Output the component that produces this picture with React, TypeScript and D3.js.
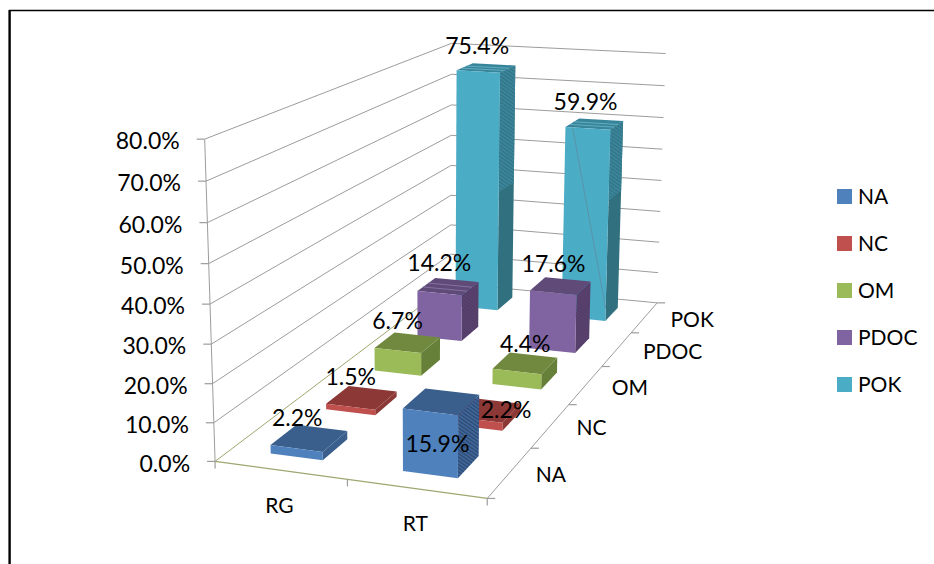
import React from "react";
import * as d3 from "d3";

// Chart values (share in %, rows by compartment, columns by group)
const groups = ["RG", "RT"];
const compartments = ["NA", "NC", "OM", "PDOC", "POK"];
const rgValues = [2.2, 1.5, 6.7, 14.2, 75.4];
const rtValues = [15.9, 2.2, 4.4, 17.6, 59.9];
const yTicks = [0, 10, 20, 30, 40, 50, 60, 70, 80];

const frontColors = ["#4F81BD", "#C0504D", "#9BBB59", "#8064A2", "#4BACC6"];
const topColors = ["#3A5F8C", "#8C3836", "#71893F", "#5F4A78", "#37859B"];
const sideColors = ["#3A5F8C", "#8C3836", "#66803A", "#59416E", "#31707F"];

const W = 934;
const H = 564;

// Known corners of the plot box define the perspective camera: [x, depth, value, px, py]
const cameraAnchors: number[][] = [
  [0, 0, 0, 215, 461],
  [1, 0, 0, 487, 499],
  [1, 1, 0, 657, 302],
  [0, 1, 0, 451, 284],
  [0, 0, 80, 205, 139],
  [0, 1, 80, 451, 43],
  [1, 1, 80, 666, 54],
];

function solveLinear(A: number[][], b: number[]): number[] {
  const n = b.length;
  const M = A.map((r, i) => [...r, b[i]]);
  for (let c = 0; c < n; c++) {
    let p = c;
    for (let r = c + 1; r < n; r++) if (Math.abs(M[r][c]) > Math.abs(M[p][c])) p = r;
    [M[c], M[p]] = [M[p], M[c]];
    for (let r = 0; r < n; r++) {
      if (r === c) continue;
      const f = M[r][c] / M[c][c];
      for (let k = c; k <= n; k++) M[r][k] -= f * M[c][k];
    }
  }
  return M.map((r, i) => r[n] / r[i]);
}

// Least-squares direct linear transform for a 3x4 projection with the last entry fixed to 1
function fitCamera(anchors: number[][]): number[] {
  const rows: number[][] = [];
  const rhs: number[] = [];
  anchors.forEach(([x, z, v, px, py]) => {
    const y = v / 80;
    rows.push([x, z, y, 1, 0, 0, 0, 0, -px * x / 1000, -px * z / 1000, -px * y / 1000]);
    rhs.push(px);
    rows.push([0, 0, 0, 0, x, z, y, 1, -py * x / 1000, -py * z / 1000, -py * y / 1000]);
    rhs.push(py);
  });
  const n = 11;
  const ata = d3.range(n).map((i) => d3.range(n).map((j) => d3.sum(rows, (r) => r[i] * r[j])));
  const atb = d3.range(n).map((i) => d3.sum(rows, (r, k) => r[i] * rhs[k]));
  const sol = solveLinear(ata, atb);
  return sol.map((v, i) => (i >= 8 ? v / 1000 : v));
}

const cam = fitCamera(cameraAnchors);

function project(x: number, z: number, v: number): [number, number] {
  const y = v / 80;
  const w = cam[8] * x + cam[9] * z + cam[10] * y + 1;
  return [
    (cam[0] * x + cam[1] * z + cam[2] * y + cam[3]) / w,
    (cam[4] * x + cam[5] * z + cam[6] * y + cam[7]) / w,
  ];
}

const xBand = d3.scaleBand<string>().domain(groups).range([0, 1]).paddingInner(0.6).paddingOuter(0.3);
const zBand = d3.scaleBand<string>().domain(compartments).range([0, 1]).paddingInner(0.55).paddingOuter(0.275);

const pathOf = d3.line<[number, number]>().x((d) => d[0]).y((d) => d[1]);
const poly = (pts: [number, number, number][]) => pathOf(pts.map((p) => project(p[0], p[1], p[2]))) + "Z";

type Bar = { g: string; c: string; ci: number; v: number };
const bars: Bar[] = [];
compartments.forEach((c, ci) => {
  groups.forEach((g, gi) => {
    bars.push({ g, c, ci, v: (gi === 0 ? rgValues : rtValues)[ci] });
  });
});
// Painter's order: deepest row first
const paintOrder = [...bars].sort((a, b) => b.ci - a.ci);

// Hand placement of value labels relative to each bar's top centre
const labelNudge: Record<string, [number, number]> = {
  "RG-NA": [-12, -20],
  "RT-NA": [-4, 42],
  "RG-NC": [-11, -21],
  "RT-NC": [20, 0],
  "RG-OM": [-10, -22],
  "RT-OM": [0, -19],
  "RG-PDOC": [-9, -24],
  "RT-PDOC": [-7, -22],
  "RG-POK": [-9, -22],
  "RT-POK": [-9, -22],
};

// Value where the POK side faces change shading
const POK_SIDE_SPLIT = 38;

const FONT = "Lato, Carlito, Calibri, sans-serif";
const GRID = "#9c9c9c";
const FLOOR_EDGE = "#a0a670";

function Hatch({ id, base, ink }: { id: string; base: string; ink: string }) {
  return (
    <pattern id={id} width={3} height={3} patternUnits="userSpaceOnUse" patternTransform="rotate(35)">
      <rect width={3} height={3} fill={base} />
      <rect width={3} height={1} fill={ink} />
    </pattern>
  );
}

export default function App() {
  const bl = (v: number) => project(0, 1, v);
  return (
    <svg width={W} height={H} style={{ position: "absolute", left: 0, top: 0, display: "block", background: "#fff" }} fontFamily={FONT}>
      <defs>
        <Hatch id="side-na" base="#3E659A" ink="#2C4668" />
        <Hatch id="side-pok" base="#3C8497" ink="#2F7287" />
        <Hatch id="side-pdoc" base="#59416E" ink="#523C67" />
      </defs>

      {/* page frame */}
      <line x1={9.6} x2={9.6} y1={10} y2={H} stroke="#000" strokeWidth={2.4} />
      <line x1={9} x2={W} y1={10.5} y2={10.5} stroke="#000" strokeWidth={1.3} />

      {/* wall gridlines */}
      {yTicks.map((t) => {
        const a = project(0, 0, t);
        const b = bl(t);
        const c = project(1, 1, t);
        return (
          <g key={t}>
            <path d={pathOf([a, b])!} fill="none" stroke={t === 0 ? FLOOR_EDGE : GRID} strokeWidth={1} />
            <path d={pathOf([b, c])!} fill="none" stroke={GRID} strokeWidth={1} />
            <line x1={a[0] - 8} x2={a[0]} y1={a[1]} y2={a[1]} stroke={GRID} strokeWidth={1.2} />
            <text x={a[0] - 25} y={a[1] + 2} dy="0.36em" textAnchor="end" fontSize={23} fill="#000">
              {t.toFixed(1)}%
            </text>
          </g>
        );
      })}

      {/* axis edges */}
      <path d={pathOf([project(0, 0, 0), project(0, 0, 80)])!} fill="none" stroke={GRID} />
      <path d={pathOf([project(0, 0, 0), project(1, 0, 0)])!} fill="none" stroke={FLOOR_EDGE} strokeWidth={1.2} />
      <path d={pathOf([project(1, 0, 0), project(1, 1, 0)])!} fill="none" stroke={GRID} />

      {/* ticks along the front and right floor edges */}
      {[0, 0.5, 1].map((x) => {
        const p = project(x, 0, 0);
        return <line key={x} x1={p[0]} x2={p[0]} y1={p[1]} y2={p[1] + 7} stroke={GRID} strokeWidth={1.2} />;
      })}
      {d3.range(6).map((i) => {
        const p = project(1, i / 5, 0);
        return <line key={i} x1={p[0]} x2={p[0] + 8} y1={p[1]} y2={p[1]} stroke={GRID} strokeWidth={1.2} />;
      })}

      {/* bars */}
      {paintOrder.map((b) => {
        const x0 = xBand(b.g)!;
        const x1 = x0 + xBand.bandwidth();
        const z0 = zBand(b.c)!;
        const z1 = z0 + zBand.bandwidth();
        const sideFill = b.c === "NA" && b.g === "RT" ? "url(#side-na)" : b.c === "PDOC" ? "url(#side-pdoc)" : sideColors[b.ci];
        return (
          <g key={b.g + b.c}>
            <path d={poly([[x1, z0, 0], [x1, z1, 0], [x1, z1, b.v], [x1, z0, b.v]])} fill={sideFill} />
            {b.c === "POK" && (
              <path d={poly([[x1, z0, POK_SIDE_SPLIT], [x1, z1, POK_SIDE_SPLIT], [x1, z1, b.v], [x1, z0, b.v]])} fill="url(#side-pok)" />
            )}
            <path d={poly([[x0, z0, b.v], [x1, z0, b.v], [x1, z1, b.v], [x0, z1, b.v]])} fill={topColors[b.ci]} />
            {(b.c === "POK" || (b.c === "PDOC" && b.g === "RG")) &&
              [0.3, 0.6].map((f) => (
                <path
                  key={f}
                  d={pathOf([project(x0, z0 + f * (z1 - z0), b.v), project(x1, z0 + f * (z1 - z0), b.v)])!}
                  fill="none"
                  stroke={b.c === "POK" ? "#6FB6C9" : "#8E7BA9"}
                  strokeWidth={0.8}
                />
              ))}
            <path d={poly([[x0, z0, 0], [x1, z0, 0], [x1, z0, b.v], [x0, z0, b.v]])} fill={frontColors[b.ci]} />
            {b.c === "POK" && b.g === "RT" && (
              <path
                d={pathOf([project(x0 + 0.16 * (x1 - x0), z0, b.v), project(x1, z0, 4)])!}
                fill="none"
                stroke="#5A93A8"
                strokeWidth={1}
              />
            )}
          </g>
        );
      })}

      {/* value labels */}
      {bars.map((b) => {
        const xc = xBand(b.g)! + xBand.bandwidth() / 2;
        const zc = zBand(b.c)! + zBand.bandwidth() / 2;
        const p = project(xc, zc, b.v);
        const n = labelNudge[`${b.g}-${b.c}`];
        return (
          <text key={b.g + b.c} x={p[0] + n[0]} y={p[1] + n[1]} dy="0.36em" textAnchor="middle" fontSize={23} fill="#000">
            {b.v.toFixed(1)}%
          </text>
        );
      })}

      {/* category labels */}
      {groups.map((g) => {
        const p = project(xBand(g)! + xBand.bandwidth() / 2, 0, 0);
        return (
          <text key={g} x={p[0] - 1} y={p[1] + 35} dy="0.36em" textAnchor="middle" fontSize={21} fill="#000">
            {g}
          </text>
        );
      })}
      {compartments.map((c) => {
        const p = project(1, zBand(c)! + zBand.bandwidth() / 2, 0);
        return (
          <text key={c} x={p[0] + 26} y={p[1] + 2} dy="0.36em" fontSize={21} fill="#000">
            {c}
          </text>
        );
      })}

      {/* legend */}
      {compartments.map((c, i) => (
        <g key={c} transform={`translate(837,${189 + i * 47})`}>
          <rect width={15} height={15} fill={frontColors[i]} />
          <text x={21} y={7.5} dy="0.36em" fontSize={21} fill="#000">
            {c}
          </text>
        </g>
      ))}
    </svg>
  );
}
